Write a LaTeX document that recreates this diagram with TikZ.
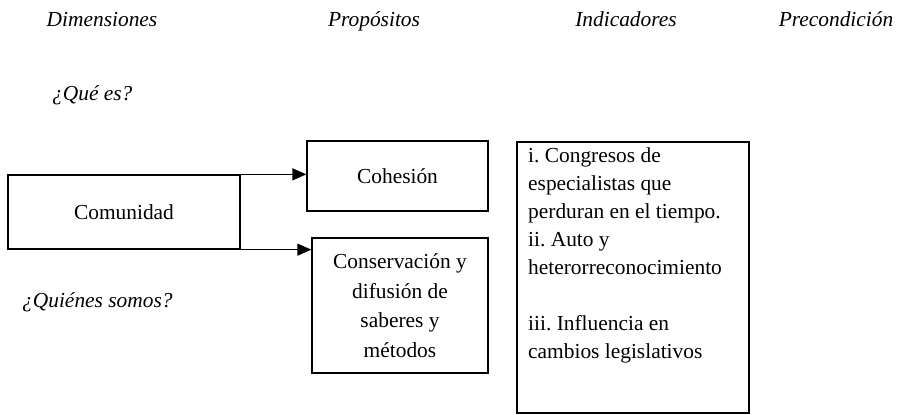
\documentclass[tikz,border=0pt]{standalone}
\usepackage{fontspec}
\setmainfont{Liberation Serif}
\usetikzlibrary{arrows.meta}
\begin{document}
\frenchspacing
\begin{tikzpicture}[x=1pt,y=-1pt,
  every node/.style={font=\fontsize{21.4}{28}\selectfont, inner sep=0pt},
  hdr/.style={font=\fontsize{21.4}{28}\selectfont\itshape, anchor=base},
  qtxt/.style={font=\fontsize{21.4}{28}\selectfont\itshape, anchor=base west},
  boxnode/.style={draw, line width=1.3pt, align=center},
  arr/.style={line width=1.3pt, -{Triangle[length=14pt,width=12pt]}}
]
\useasboundingbox (0,0) rectangle (897,415);
% headers
\node[hdr] (h1) at (102,26) {Dimensiones};
\node[hdr] (h2) at (374,26) {Propósitos};
\node[hdr] (h3) at (626,26) {Indicadores};
\node[hdr] (h4) at (836,26) {Precondición};
\node[qtxt] (q1) at (52,100) {¿Qué es?};
\node[qtxt] (q2) at (22,307) {¿Quiénes somos?};
% boxes
\node[boxnode, minimum width=232pt, minimum height=74pt] (com) at (124,212) {Comunidad};
\node[boxnode, minimum width=181pt, minimum height=70pt] (coh) at (397.5,176) {Cohesión};
\node[boxnode, minimum width=176pt, minimum height=135pt, font=\fontsize{21.4}{29.5}\selectfont] (cons) at (400,305.5)
  {Conservación y\\difusión de\\saberes y\\métodos};
\node[draw, line width=1.3pt, minimum width=232pt, minimum height=271pt] (ind) at (633,277.5) {};
\node[anchor=north west, align=left] (indtext) at (528,147.4)
  {i. Congresos de\\especialistas que\\perduran en el tiempo.\\ii. Auto y\\heterorreconocimiento\\[28pt]iii. Influencia en\\cambios legislativos};
% arrows
\draw[arr] (com.north east) -- (coh.west |- com.north east);
\draw[arr] (com.south east) -- (cons.west |- com.south east);
\end{tikzpicture}
\end{document}
